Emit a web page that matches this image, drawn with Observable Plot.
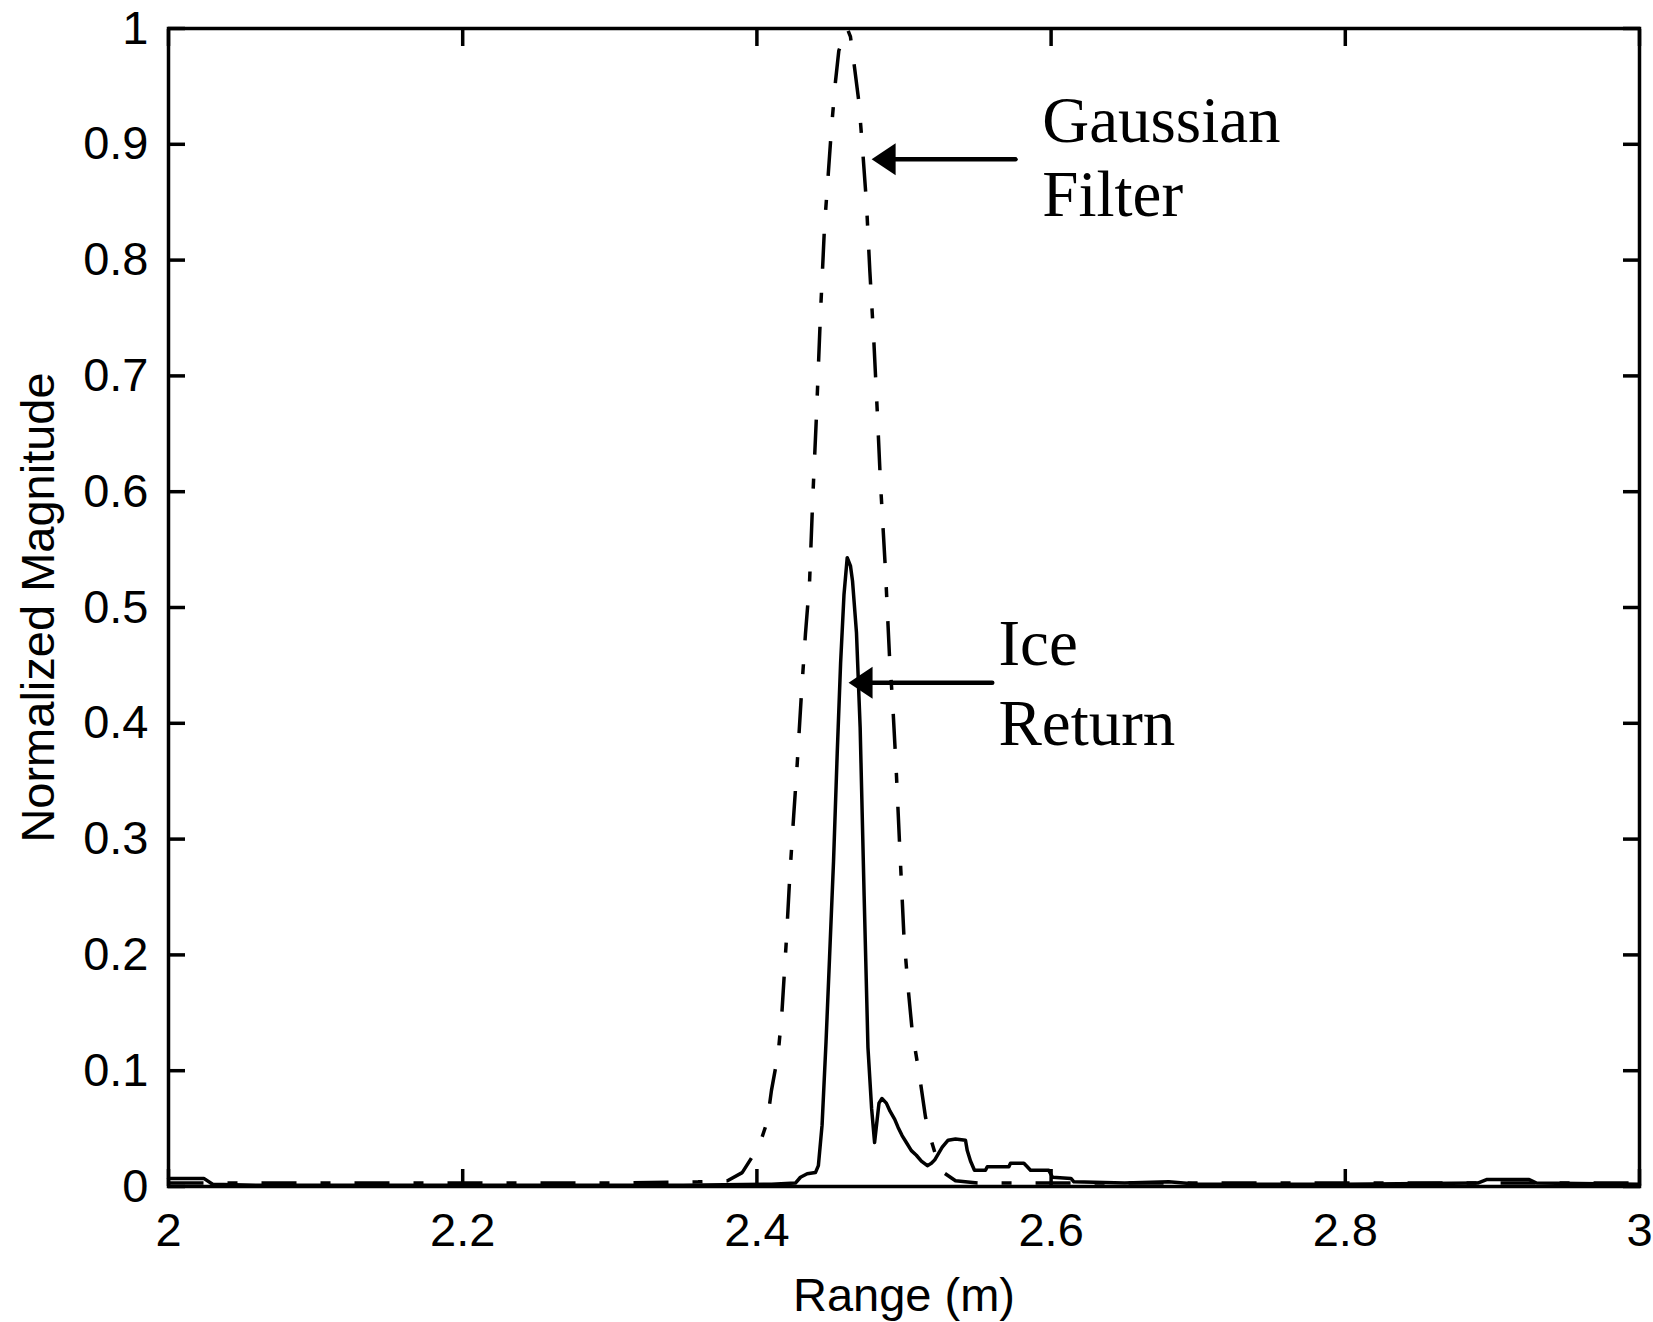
<!DOCTYPE html>
<html><head><meta charset="utf-8">
<script src="https://cdn.jsdelivr.net/npm/d3@7"></script>
<script src="https://cdn.jsdelivr.net/npm/@observablehq/plot@0.6"></script>
<style>body{margin:0;background:#fff} svg{display:block}</style>
</head><body><div id="chart"></div>
<script>
// ---- tick values and labels ----
const xTicks = [2, 2.2, 2.4, 2.6, 2.8, 3];
const xTickLabels = ["2", "2.2", "2.4", "2.6", "2.8", "3"];
const yTicks = [0, 0.1, 0.2, 0.3, 0.4, 0.5, 0.6, 0.7, 0.8, 0.9, 1];
const yTickLabels = ["0", "0.1", "0.2", "0.3", "0.4", "0.5", "0.6", "0.7", "0.8", "0.9", "1"];
const xLabel = "Range (m)";
const yLabel = "Normalized Magnitude";

// ---- Ice return (solid) ----
const iceX = [2.000, 2.024, 2.030, 2.060, 2.150, 2.250, 2.350, 2.410, 2.4262, 2.4296, 2.4342, 2.4398, 2.4418, 2.4443, 2.4470, 2.4494, 2.4521, 2.4546, 2.4569, 2.4592, 2.4614, 2.4636, 2.4650, 2.4677, 2.4702, 2.4729, 2.4755, 2.4780, 2.4800, 2.4830, 2.4850, 2.4880, 2.4905, 2.4937, 2.4960, 2.4987, 2.5016, 2.5050, 2.5084, 2.5118, 2.5159, 2.5186, 2.5209, 2.5260, 2.5300, 2.5350, 2.5418, 2.5430, 2.5452, 2.5479, 2.5554, 2.5566, 2.5713, 2.5724, 2.5815, 2.5838, 2.5860, 2.5984, 2.6010, 2.6135, 2.6155, 2.6500, 2.6800, 2.7000, 2.8000, 2.8900, 2.8960, 2.9250, 2.9300, 3.0000];
const iceY = [0.007, 0.007, 0.002, 0.001, 0.001, 0.001, 0.001, 0.002, 0.003, 0.008, 0.011, 0.012, 0.018, 0.053, 0.125, 0.198, 0.281, 0.374, 0.452, 0.511, 0.543, 0.536, 0.523, 0.478, 0.396, 0.251, 0.120, 0.067, 0.038, 0.072, 0.076, 0.072, 0.065, 0.058, 0.051, 0.044, 0.038, 0.031, 0.027, 0.022, 0.018, 0.020, 0.023, 0.034, 0.040, 0.041, 0.040, 0.031, 0.022, 0.014, 0.014, 0.017, 0.017, 0.020, 0.020, 0.017, 0.014, 0.014, 0.008, 0.007, 0.004, 0.003, 0.004, 0.002, 0.002, 0.003, 0.006, 0.006, 0.003, 0.002];

// ---- Gaussian filter (dash-dot) ----
const gaussX = [2.000, 2.100, 2.200, 2.300, 2.360, 2.380, 2.390, 2.399, 2.4036, 2.4070, 2.4099, 2.4145, 2.4170, 2.4200, 2.4224, 2.4250, 2.4274, 2.4303, 2.4330, 2.4358, 2.4380, 2.4405, 2.4432, 2.4460, 2.4485, 2.4507, 2.4534, 2.4557, 2.4614, 2.4636, 2.4663, 2.4693, 2.4716, 2.4745, 2.4768, 2.4795, 2.4818, 2.4840, 2.4874, 2.4901, 2.4924, 2.4947, 2.4971, 2.5000, 2.5029, 2.5056, 2.5106, 2.5146, 2.5180, 2.5220, 2.5270, 2.5350, 2.5500, 2.7000, 2.9000, 3.0000];
const gaussY = [0.003, 0.003, 0.003, 0.003, 0.004, 0.005, 0.012, 0.030, 0.043, 0.056, 0.083, 0.115, 0.150, 0.212, 0.269, 0.320, 0.365, 0.426, 0.477, 0.522, 0.595, 0.666, 0.753, 0.830, 0.874, 0.914, 0.954, 0.981, 1.000, 0.993, 0.967, 0.937, 0.900, 0.849, 0.790, 0.730, 0.670, 0.608, 0.532, 0.459, 0.415, 0.360, 0.293, 0.215, 0.170, 0.134, 0.095, 0.060, 0.042, 0.025, 0.012, 0.005, 0.003, 0.003, 0.003, 0.003];

// ---- annotations (data coordinates) ----
const annoText = ["Gaussian", "Filter", "Ice", "Return"];
const annoX = [2.594, 2.594, 2.5642, 2.5642];
const annoY = [0.9016, 0.8385, 0.450, 0.381];
const arrowTipX = [2.478, 2.4623];
const arrowTipY = [0.887, 0.435];
const arrowTailX = [2.5758, 2.560];

// ---- tables ----
const ice = iceX.map((x, i) => ({x, y: iceY[i]}));
const gauss = gaussX.map((x, i) => ({x, y: gaussY[i]}));
const notes = annoText.map((t, i) => ({t, x: annoX[i], y: annoY[i]}));
const arrows = arrowTipX.map((x, i) => ({x1: arrowTailX[i], x2: x, y: arrowTipY[i]}));

const leftHead = {draw(ctx) { ctx.moveTo(0, 0); ctx.lineTo(24, -16); ctx.lineTo(24, 16); ctx.closePath(); }};
const sans = "'Liberation Sans', Arial, sans-serif";
const serif = "'Liberation Serif', 'Times New Roman', serif";

const chart = Plot.plot({
  width: 1653, height: 1322,
  marginLeft: 168, marginRight: 14, marginTop: 28, marginBottom: 136,
  x: {domain: [2, 3]},
  y: {domain: [0, 1]},
  style: {fontFamily: sans, fontSize: "47px", color: "black", background: "white"},
  marks: [
    Plot.line(gauss, {x: "x", y: "y", stroke: "black", strokeWidth: 3.5, strokeDasharray: "35,24,10,24", strokeLinecap: "butt"}),
    Plot.line(ice, {x: "x", y: "y", stroke: "black", strokeWidth: 3.5}),
    Plot.frame({stroke: "black", strokeWidth: 3.5}),
    Plot.axisX(xTicks, {anchor: "bottom", tickSize: -17, tickPadding: 43, strokeWidth: 3.5, label: null,
      tickFormat: d => xTickLabels[xTicks.indexOf(d)]}),
    Plot.axisX(xTicks, {anchor: "top", tickSize: -17, strokeWidth: 3.5, label: null, fill: "none"}),
    Plot.axisY(yTicks, {anchor: "left", tickSize: -17, tickPadding: 37, strokeWidth: 3.5, label: null,
      tickFormat: d => yTickLabels[yTicks.indexOf(d)]}),
    Plot.axisY(yTicks, {anchor: "right", tickSize: -17, strokeWidth: 3.5, label: null, fill: "none"}),
    Plot.text([xLabel], {frameAnchor: "bottom", dy: 91, lineAnchor: "top", textAnchor: "middle", fontSize: 47}),
    Plot.text([yLabel], {frameAnchor: "left", rotate: -90, dx: -130, lineAnchor: "middle", textAnchor: "middle", fontSize: 47}),
    Plot.arrow(arrows, {x1: "x1", y1: "y", x2: "x2", y2: "y", headLength: 0, insetEnd: 20, stroke: "black", strokeWidth: 4.5}),
    Plot.dot(arrows, {x: "x2", y: "y", symbol: leftHead, fill: "black", stroke: null, r: 1}),
    Plot.text(notes, {x: "x", y: "y", text: "t", textAnchor: "start", lineAnchor: "bottom", fontFamily: serif, fontSize: 65, fill: "black"})
  ]
});
document.getElementById("chart").appendChild(chart);
</script>
</body></html>
